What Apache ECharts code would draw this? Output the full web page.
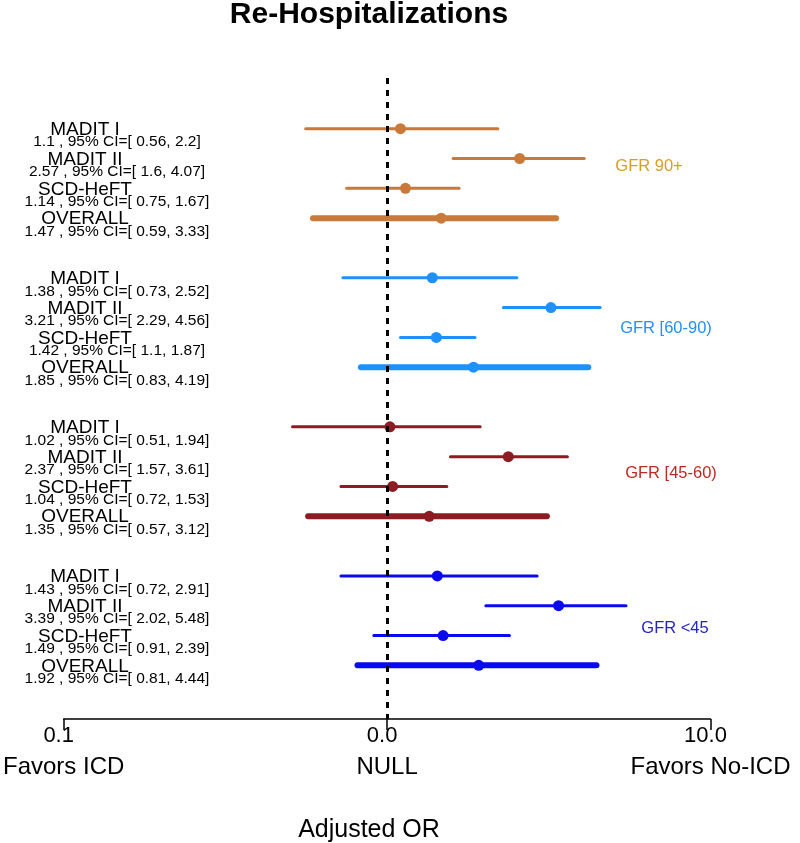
<!DOCTYPE html>
<html>
<head>
<meta charset="utf-8">
<script src="https://cdn.jsdelivr.net/npm/echarts@6/dist/echarts.min.js"></script>
<style>html,body{margin:0;padding:0;background:#fff}#c{width:800px;height:843px}</style>
</head>
<body>
<div id="c"></div>
<script>
// ---- data ----
const studies = ['MADIT I', 'MADIT II', 'SCD-HeFT', 'OVERALL'];
const groupNames = ['GFR 90+', 'GFR [60-90)', 'GFR [45-60)', 'GFR <45'];

const orG1 = [1.1, 2.57, 1.14, 1.47];
const loG1 = [0.56, 1.6, 0.75, 0.59];
const hiG1 = [2.2, 4.07, 1.67, 3.33];

const orG2 = [1.38, 3.21, 1.42, 1.85];
const loG2 = [0.73, 2.29, 1.1, 0.83];
const hiG2 = [2.52, 4.56, 1.87, 4.19];

const orG3 = [1.02, 2.37, 1.04, 1.35];
const loG3 = [0.51, 1.57, 0.72, 0.57];
const hiG3 = [1.94, 3.61, 1.53, 3.12];

const orG4 = [1.43, 3.39, 1.49, 1.92];
const loG4 = [0.72, 2.02, 0.91, 0.81];
const hiG4 = [2.91, 5.48, 2.39, 4.44];

const xTickLabels = ['0.1', '0.0', '10.0'];
const xSideLabels = ['Favors ICD', 'NULL', 'Favors No-ICD'];
const nullValue = 1;

// ---- styling ----
const FONT = 'Liberation Sans, Arial, Helvetica, sans-serif';
const lineColors = ['#C97A3B', '#1E90FF', '#8E1B22', '#0A0AEE'];
const labelColors = ['#D6A022', '#1E90FF', '#BC2A20', '#2424C4'];
const labelPos = [[649, 166], [666, 328], [671, 473], [675, 628]];

const groups = [
  {or: orG1, lo: loG1, hi: hiG1},
  {or: orG2, lo: loG2, hi: hiG2},
  {or: orG3, lo: loG3, hi: hiG3},
  {or: orG4, lo: loG4, hi: hiG4}
];

const series = [];
groups.forEach((g, gi) => {
  const rows = studies.map((s, i) => gi * 5 + i);
  const ciData = studies.map((s, i) => [g.lo[i], g.hi[i], rows[i], g.or[i], s === 'OVERALL' ? 1 : 0]);
  series.push({
    type: 'custom',
    silent: true,
    clip: false,
    z: 2,
    data: ciData,
    encode: {x: [0, 1], y: 2},
    renderItem: function (params, api) {
      const idx = params.dataIndex;
      const lo = api.value(0), hi = api.value(1), row = api.value(2), overall = api.value(4);
      const p1 = api.coord([lo, row]);
      const p2 = api.coord([hi, row]);
      const y = p1[1];
      return {
        type: 'group',
        children: [
          {
            type: 'line',
            shape: {x1: p1[0], y1: y, x2: p2[0], y2: y},
            style: {stroke: lineColors[gi], lineWidth: overall ? 6 : 3, lineCap: 'round'}
          },
          {
            type: 'text',
            style: {
              text: studies[idx], x: 85, y: y + 1,
              fill: '#000', fontSize: 19, fontFamily: FONT,
              align: 'center', verticalAlign: 'middle'
            }
          },
          {
            type: 'text',
            style: {
              text: g.or[idx] + ' , 95% CI=[ ' + g.lo[idx] + ', ' + g.hi[idx] + ']',
              x: 117, y: y + 13.5,
              fill: '#000', fontSize: 15.5, fontFamily: FONT,
              align: 'center', verticalAlign: 'middle'
            }
          }
        ]
      };
    }
  });
  const sc = {
    type: 'scatter',
    silent: true,
    z: 3,
    symbol: 'circle',
    symbolSize: 11,
    itemStyle: {color: lineColors[gi], opacity: 1},
    data: studies.map((s, i) => [g.or[i], rows[i]])
  };
  if (gi === 0) {
    sc.markLine = {
      silent: true,
      symbol: 'none',
      label: {show: false},
      lineStyle: {color: '#000', type: [6, 6], width: 3},
      data: [{xAxis: nullValue}]
    };
  }
  series.push(sc);
});

const chart = echarts.init(document.getElementById('c'), null, {renderer: 'canvas'});
const tickIdx = v => Math.round(Math.log10(v)) + 1;

chart.setOption({
  animation: false,
  backgroundColor: '#fff',
  grid: {left: 58.5, right: 89.5, top: 78, bottom: 124, containLabel: false},
  xAxis: [
    {
      type: 'log', logBase: 10, min: 0.1, max: 10,
      position: 'bottom',
      axisLine: {show: true, onZero: false, lineStyle: {color: '#000', width: 1.5}},
      axisTick: {show: true, length: 11, lineStyle: {color: '#000', width: 1.5}},
      minorTick: {show: false},
      splitLine: {show: false},
      axisLabel: {
        show: true, margin: 6, color: '#000', fontSize: 22, fontFamily: FONT,
        padding: [0, 10, 0, 0],
        showMinLabel: true, showMaxLabel: true,
        formatter: v => xTickLabels[tickIdx(v)]
      }
    },
    {
      type: 'log', logBase: 10, min: 0.1, max: 10,
      position: 'bottom', offset: 0,
      axisLine: {show: false, onZero: false},
      axisTick: {show: false},
      splitLine: {show: false},
      axisLabel: {
        show: true, margin: 36, color: '#000', fontSize: 24, fontFamily: FONT,
        showMinLabel: true, showMaxLabel: true,
        formatter: v => xSideLabels[tickIdx(v)]
      }
    }
  ],
  yAxis: {
    type: 'value', inverse: true, min: -1.7, max: 19.8,
    show: false
  },
  series: series,
  graphic: [
    {
      type: 'text', silent: true,
      style: {text: 'Re-Hospitalizations', x: 369, y: 15, fill: '#000',
        fontSize: 30, fontWeight: 'bold', fontFamily: FONT, align: 'center', verticalAlign: 'middle'}
    },
    {
      type: 'text', silent: true,
      style: {text: 'Adjusted OR', x: 369, y: 830, fill: '#000',
        fontSize: 25, fontFamily: FONT, align: 'center', verticalAlign: 'middle'}
    }
  ].concat(groupNames.map((n, i) => ({
    type: 'text', silent: true,
    style: {text: n, x: labelPos[i][0], y: labelPos[i][1], fill: labelColors[i],
      fontSize: 16.5, fontFamily: FONT, align: 'center', verticalAlign: 'middle'}
  })))
});
</script>
</body>
</html>
